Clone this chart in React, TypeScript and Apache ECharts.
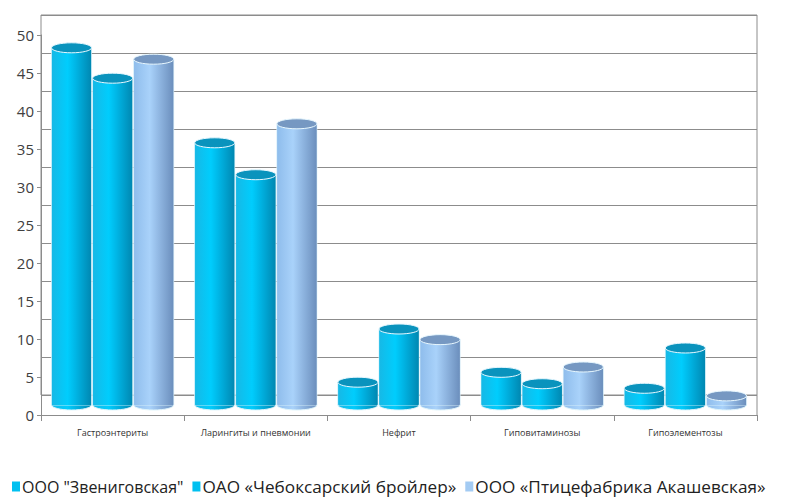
import React, { useEffect, useRef } from "react";
import * as echarts from "echarts";

const categories = ["Гастроэнтериты", "Ларингиты и пневмонии", "Нефрит", "Гиповитаминозы", "Гипоэлементозы"];
const seriesNames = ['ООО "Звениговская"', "ОАО «Чебоксарский бройлер»", "ООО «Птицефабрика Акашевская»"];
const zvenigovskaya = [47, 34.5, 3, 4.3, 2.2];
const cheboksary = [43, 30.3, 10, 2.8, 7.5];
const akashevskaya = [45.5, 37, 8.6, 5, 1.2];
const yMin = 0;
const yMax = 50;
const yStep = 5;

const palettes = [
  { legend: "#00c0f0", body: ["#16b9e6", "#00cdfd", "#00b6e6", "#0088b2"], top: "#0a93bd" },
  { legend: "#00c0f0", body: ["#16b9e6", "#00cdfd", "#00b6e6", "#0088b2"], top: "#0a93bd" },
  { legend: "#a3cbf3", body: ["#8fbdec", "#a9d2fa", "#94bbe6", "#6c8fbd"], top: "#7698c2" },
];
const legendSizes = [16, 17.2, 17.2];

export default function App() {
  const ref = useRef<HTMLDivElement>(null);
  useEffect(() => {
    if (!ref.current) return;
    const chart = echarts.init(ref.current, undefined, { renderer: "svg" });
    const allData = [zvenigovskaya, cheboksary, akashevskaya];
    const gray = "#8c8c8c";

    const series = allData.map((vals, si) => ({
      type: "custom" as const,
      name: seriesNames[si],
      xAxisIndex: 2,
      yAxisIndex: 2,
      itemStyle: { color: palettes[si].legend },
      encode: { x: 0, y: 1 },
      data: vals.map((v, i) => [i, v]),
      z: 10,
      renderItem: (params: any, api: any) => {
        const ci = api.value(0);
        const v = api.value(1);
        const band = api.size([1, 0])[0];
        const w = band * 0.28;
        const off = (si - 1) * band * 0.287;
        const base = api.coord([ci, 0]);
        const top = api.coord([ci, v]);
        const cx = base[0] + off;
        const rx = w / 2;
        const ry = 5;
        const p = palettes[si];
        const grad = new echarts.graphic.LinearGradient(0, 0, 1, 0, [
          { offset: 0, color: p.body[0] },
          { offset: 0.4, color: p.body[1] },
          { offset: 0.6, color: p.body[2] },
          { offset: 1, color: p.body[3] },
        ]);
        return {
          type: "group",
          children: [
            {
              type: "ellipse",
              shape: { cx, cy: base[1], rx, ry },
              style: { fill: grad, stroke: "#dff5fc", lineWidth: 1 },
            },
            {
              type: "rect",
              shape: { x: cx - rx, y: top[1], width: w, height: base[1] - top[1] },
              style: { fill: grad, stroke: "#dff5fc", lineWidth: 0.8 },
            },
            {
              type: "rect",
              shape: { x: cx - rx + 0.5, y: top[1], width: w - 1, height: base[1] - top[1] },
              style: { fill: grad },
            },
            {
              type: "ellipse",
              shape: { cx, cy: top[1], rx, ry },
              style: { fill: p.top, stroke: "#e8f8ff", lineWidth: 1 },
            },
          ],
        };
      },
    }));

    chart.setOption({
      animation: false,
      backgroundColor: "#ffffff",
      textStyle: { fontFamily: "Open Sans" },
      grid: [
        { left: 41, right: 30, top: 35, bottom: 83 },
        { left: 41, right: 30, top: 15, bottom: 103, show: true, borderColor: gray, borderWidth: 1, backgroundColor: "transparent" },
        { left: 41, right: 30, top: 25, bottom: 93 },
      ],
      xAxis: [
        {
          gridIndex: 0,
          type: "category",
          data: categories,
          axisLine: { show: true, lineStyle: { color: gray } },
          axisTick: { show: true, length: 6, lineStyle: { color: gray } },
          axisLabel: { fontSize: 9, color: "#333", margin: 13, fontFamily: "Open Sans" },
        },
        { gridIndex: 1, type: "category", data: categories, show: false },
        { gridIndex: 2, type: "category", data: categories, show: false },
      ],
      yAxis: [
        {
          gridIndex: 0,
          type: "value",
          min: yMin,
          max: yMax,
          interval: yStep,
          axisLine: { show: true, lineStyle: { color: gray } },
          axisTick: { show: true, length: 4, lineStyle: { color: gray } },
          splitLine: { show: false },
          axisLabel: { fontSize: 15, color: "#404040", margin: 7, fontFamily: "Open Sans" },
        },
        {
          gridIndex: 1,
          type: "value",
          min: yMin,
          max: yMax,
          interval: yStep,
          axisLine: { show: false },
          axisTick: { show: false },
          axisLabel: { show: false },
          splitLine: { show: true, lineStyle: { color: gray, width: 1 } },
        },
        { gridIndex: 2, type: "value", min: yMin, max: yMax, interval: yStep, show: false, splitLine: { show: false } },
      ],
      legend: {
        top: 477,
        left: 12,
        icon: "rect",
        itemWidth: 8,
        itemHeight: 10,
        itemGap: 9,
        padding: 0,
        textStyle: { fontSize: 16, lineHeight: 19, color: "#222", fontFamily: "Open Sans", padding: [0, 0, 0, -3] },
        data: seriesNames.map((n, i) => ({
          name: n,
          textStyle: { fontSize: legendSizes[i], lineHeight: 19, color: "#222", fontFamily: "Open Sans", padding: [0, 0, 0, -3] },
        })),
      },
      graphic: [
        {
          type: "line",
          shape: { x1: 757, y1: 395, x2: 757, y2: 415 },
          style: { stroke: gray, lineWidth: 1 },
        },
      ],
      series,
    });
    return () => chart.dispose();
  }, []);
  return <div ref={ref} style={{ width: 787, height: 498, position: "absolute", left: 0, top: 0 }} />;
}
